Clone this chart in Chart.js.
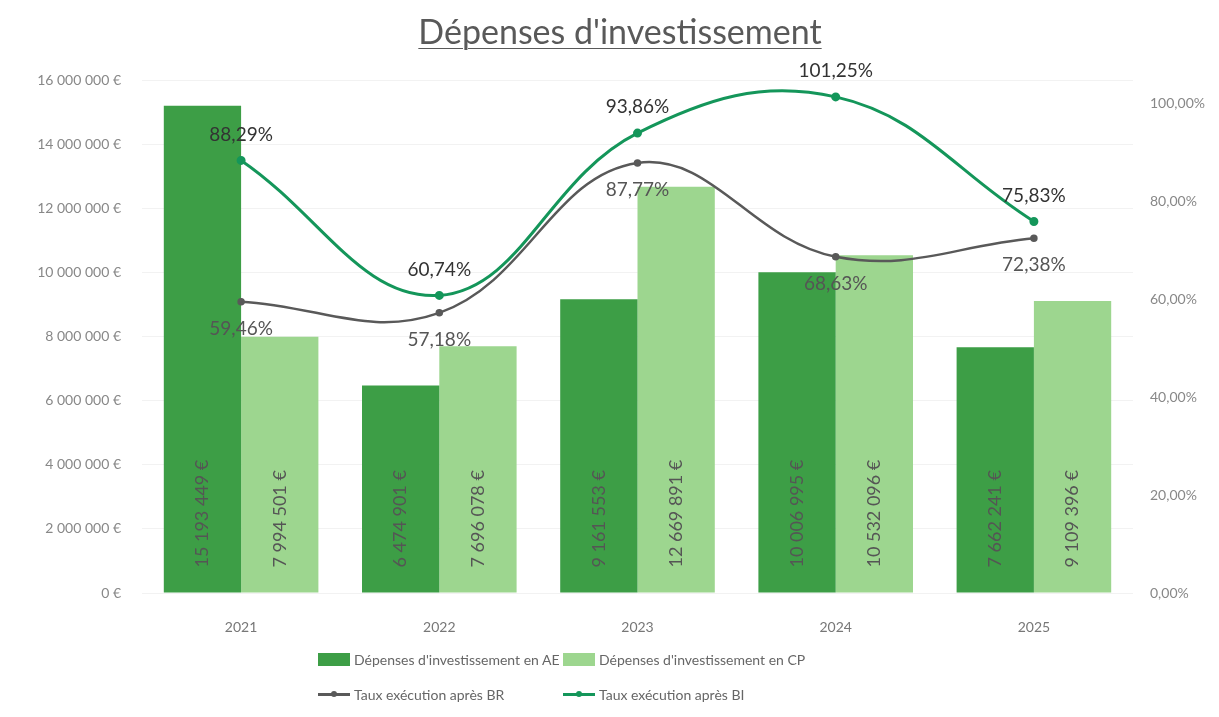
<!DOCTYPE html>
<html>
<head>
<meta charset="utf-8">
<script src="https://cdn.jsdelivr.net/npm/chart.js@4.4.1/dist/chart.umd.min.js"></script>
<style>
    html, body { margin: 0; padding: 0; background: #fff; }
    #wrap { position: relative; width: 1219px; height: 717px; font-family: Lato, "Open Sans", sans-serif; }
    #title { position: absolute; left: 0; width: 1240px; top: 10px; text-align: center; font-size: 34px; color: #595959; text-decoration: underline; text-underline-offset: 4px; text-decoration-thickness: 1px; }
    #legend { position: absolute; left: 318px; top: 651px; display: grid; grid-template-columns: 245px 300px; row-gap: 18px; font-size: 14px; color: #666; }
    .item { display: flex; align-items: center; white-space: nowrap; }
    .box { width: 32px; height: 13px; margin-right: 4px; }
    .line { position: relative; width: 32px; height: 3px; margin-right: 4px; }
    .line i { position: absolute; left: 13px; top: -2px; width: 6px; height: 6px; border-radius: 50%; }
</style>
</head>
<body>
<div id="wrap">
    <div id="title">Dépenses d'investissement</div>
    <canvas id="chart" width="1219" height="717"></canvas>
    <div id="legend"></div>
</div>
<script>
const years = ["2021", "2022", "2023", "2024", "2025"];
const depensesAE = [15193449, 6474901, 9161553, 10006995, 7662241];
const depensesCP = [7994501, 7696078, 12669891, 10532096, 9109396];
const tauxBR = [0.5946, 0.5718, 0.8777, 0.6863, 0.7238];
const tauxBI = [0.8829, 0.6074, 0.9386, 1.0125, 0.7583];

const AE_COLOR = "#3d9e46";
const CP_COLOR = "#9dd68f";
const BR_COLOR = "#595959";
const BI_COLOR = "#14965a";

// espaces normaux comme séparateurs de milliers
const euro = v => Math.round(v).toString().replace(/\B(?=(\d{3})+(?!\d))/g, " ") + " €";
const pct = v => (v * 100).toFixed(2).replace(".", ",") + "%";

// étiquettes de données (pas de plugin datalabels dispo)
const labelsPlugin = {
    id: "labels",
    afterDatasetsDraw(chart) {
        const ctx = chart.ctx;
        ctx.save();
        chart.data.datasets.forEach((ds, i) => {
            const meta = chart.getDatasetMeta(i);
            meta.data.forEach((el, j) => {
                const v = ds.data[j];
                if (ds.type === "bar") {
                    ctx.save();
                    ctx.translate(el.x, el.base - 25);
                    ctx.rotate(-Math.PI / 2);
                    ctx.font = "18px Lato, sans-serif";
                    ctx.fillStyle = "#555";
                    ctx.textAlign = "left";
                    ctx.textBaseline = "middle";
                    ctx.fillText(euro(v), 0, 0);
                    ctx.restore();
                } else {
                    ctx.font = "19px Lato, sans-serif";
                    ctx.textAlign = "center";
                    ctx.textBaseline = "middle";
                    ctx.fillStyle = ds.labelAbove ? "#333" : "#555";
                    ctx.fillText(pct(v), el.x, el.y + (ds.labelAbove ? -26 : 27));
                }
            });
        });
        ctx.restore();
    }
};

const chart = new Chart(document.getElementById("chart"), {
    data: {
        labels: years,
        datasets: [
            {
                type: "line",
                label: "Taux exécution après BR",
                data: tauxBR,
                yAxisID: "y1",
                borderColor: BR_COLOR,
                backgroundColor: BR_COLOR,
                borderWidth: 2.5,
                pointRadius: 2.5,
                tension: 0.4,
                order: 0,
            },
            {
                type: "line",
                label: "Taux exécution après BI",
                data: tauxBI,
                yAxisID: "y1",
                borderColor: BI_COLOR,
                backgroundColor: BI_COLOR,
                borderWidth: 3,
                pointRadius: 3,
                tension: 0.4,
                labelAbove: true,
                order: 0,
            },
            {
                type: "bar",
                label: "Dépenses d'investissement en AE",
                data: depensesAE,
                yAxisID: "y",
                backgroundColor: AE_COLOR,
                categoryPercentage: 0.78,
                barPercentage: 1,
                order: 1,
            },
            {
                type: "bar",
                label: "Dépenses d'investissement en CP",
                data: depensesCP,
                yAxisID: "y",
                backgroundColor: CP_COLOR,
                categoryPercentage: 0.78,
                barPercentage: 1,
                order: 1,
            },
        ]
    },
    options: {
        responsive: false,
        animation: false,
        layout: { padding: { top: 80, left: 0, right: 0, bottom: 0 } },
        plugins: {
            legend: { display: false },
            tooltip: { enabled: false },
        },
        scales: {
            x: {
                grid: { display: false },
                border: { display: false },
                ticks: { color: "#777", padding: 18, font: { family: "Lato", size: 14 } },
                afterFit: s => { s.height = 124; },
            },
            y: {
                position: "left",
                min: 0,
                max: 16000000,
                ticks: {
                    stepSize: 2000000,
                    color: "#888",
                    padding: 21,
                    font: { family: "Lato", size: 14 },
                    callback: v => euro(v),
                },
                grid: { color: "#f2f2f2", drawTicks: false },
                border: { display: false },
                afterFit: s => { s.width = 142; },
            },
            y1: {
                position: "right",
                min: 0,
                max: 1.047,
                ticks: {
                    stepSize: 0.2,
                    color: "#888",
                    padding: 17,
                    font: { family: "Lato", size: 14 },
                    callback: v => v > 1.01 ? "" : pct(v),
                },
                grid: { display: false, drawTicks: false },
                border: { display: false },
                afterFit: s => { s.width = 86; },
            },
        }
    },
    plugins: [labelsPlugin]
});

// légende HTML sur deux lignes
const legend = document.getElementById("legend");
const legendOrder = [2, 3, 0, 1];
legendOrder.forEach(i => {
    const ds = chart.data.datasets[i];
    const item = document.createElement("div");
    item.className = "item";
    if (ds.type === "bar") {
        item.innerHTML = `<span class="box" style="background:${ds.backgroundColor}"></span>${ds.label}`;
    } else {
        item.innerHTML = `<span class="line" style="background:${ds.borderColor}"><i style="background:${ds.borderColor}"></i></span>${ds.label}`;
    }
    legend.appendChild(item);
});
</script>
</body>
</html>
